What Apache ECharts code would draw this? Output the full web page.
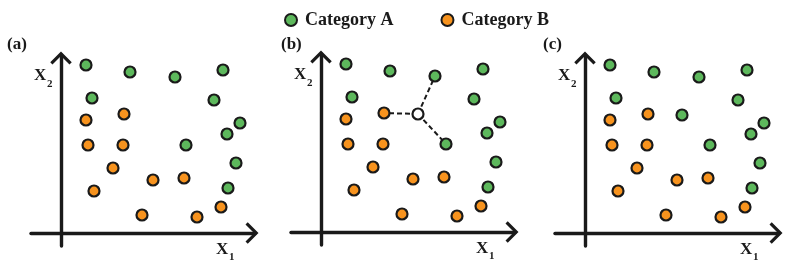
<!DOCTYPE html>
<html>
<head>
<meta charset="utf-8">
<script src="https://cdn.jsdelivr.net/npm/echarts@6/dist/echarts.min.js"></script>
<style>html,body{margin:0;padding:0;background:#fff}#c{width:789px;height:270px}</style>
</head>
<body>
<div id="c"></div>
<script>
// Feature-space coordinates (X1, X2) of the samples
const categoryA = [[25,168],[69,161],[114,156],[162,163],[31,135],[153,133],[179,110],[166,99],[125,88],[175,70],[167,45]];
const categoryB = [[25,113],[63,119],[27,88],[62,88],[52,65],[92,53],[123,55],[33,42],[81,18],[136,16],[160,26]];
const queryPoint = [97,118];
// k = 3 nearest neighbours of the query point: [category, index]
const neighbours = [['B',1],['A',2],['A',8]];
const panelLabels = ['(a)','(b)','(c)'];
const legendNames = ['Category A','Category B'];

const GREEN = '#5db85c', ORANGE = '#f7931e', INK = '#1a1a1a';
const FONT = '"Liberation Serif", "Times New Roman", serif';

const origins = [[61,233],[321,232],[585,233]];
const X_MIN = -30, X_MAX = 194, Y_MIN = -13, Y_MAX = 178;
const chevron = 'path://M11,0 L22,11 L19.7,13.3 L11,4.6 L2.3,13.3 L0,11 Z';

const grids = [], xAxes = [], yAxes = [], series = [], graphics = [];
origins.forEach((o, i) => {
  grids.push({left: o[0] + X_MIN, top: o[1] - Y_MAX, width: X_MAX - X_MIN, height: Y_MAX - Y_MIN});
  const axisLine = {show: true, onZero: true, symbol: ['none', chevron], symbolSize: [22, 13], symbolOffset: [0, -3],
    lineStyle: {color: INK, width: 3.4}};
  xAxes.push({gridIndex: i, type: 'value', min: X_MIN, max: X_MAX, axisLine: axisLine,
    axisTick: {show: false}, axisLabel: {show: false}, splitLine: {show: false}});
  yAxes.push({gridIndex: i, type: 'value', min: Y_MIN, max: Y_MAX, axisLine: axisLine,
    axisTick: {show: false}, axisLabel: {show: false}, splitLine: {show: false}});
  const item = c => ({color: c, borderColor: INK, borderWidth: 2.2, opacity: 1});
  const aData = i === 2 ? categoryA.concat([queryPoint]) : categoryA;
  series.push({name: legendNames[0], type: 'scatter', xAxisIndex: i, yAxisIndex: i, data: aData,
    symbol: 'circle', symbolSize: 11, itemStyle: item(GREEN), z: 3});
  series.push({name: legendNames[1], type: 'scatter', xAxisIndex: i, yAxisIndex: i, data: categoryB,
    symbol: 'circle', symbolSize: 11, itemStyle: item(ORANGE), z: 3});
  // axis names
  const t = (x, y, s, size) => ({type: 'text', left: x, top: y - size / 2 - 1,
    style: {text: s, font: 'bold ' + size + 'px ' + FONT, fill: INK}});
  graphics.push(t(o[0] - 27, o[1] - 156, 'X', 17));
  graphics.push(t(o[0] - 14, o[1] - 148, '2', 11));
  graphics.push(t(o[0] + 155, o[1] + 18, 'X', 17));
  graphics.push(t(o[0] + 168, o[1] + 25, '1', 11));
});
graphics.push({type:'text', left: 7, top: 36, style:{text: panelLabels[0], font: 'bold 17px ' + FONT, fill: INK}});
graphics.push({type:'text', left: 281, top: 36, style:{text: panelLabels[1], font: 'bold 17px ' + FONT, fill: INK}});
graphics.push({type:'text', left: 543, top: 36, style:{text: panelLabels[2], font: 'bold 17px ' + FONT, fill: INK}});

// panel (b): dashed links to neighbours and the query point
neighbours.forEach(n => {
  const p = n[0] === 'A' ? categoryA[n[1]] : categoryB[n[1]];
  series.push({type: 'line', xAxisIndex: 1, yAxisIndex: 1, data: [queryPoint, p], symbol: 'none',
    lineStyle: {color: INK, width: 2, type: [5, 3]}, z: 1, silent: true});
});
series.push({name: 'query', type: 'scatter', xAxisIndex: 1, yAxisIndex: 1, data: [queryPoint],
  symbol: 'circle', symbolSize: 11, itemStyle: {color: '#fff', borderColor: INK, borderWidth: 2.2, opacity: 1}, z: 4});

const chart = echarts.init(document.getElementById('c'));
chart.setOption({
  animation: false,
  backgroundColor: '#fff',
  grid: grids, xAxis: xAxes, yAxis: yAxes, series: series, graphic: graphics,
  legend: {data: legendNames, left: 279, top: 6, itemWidth: 12, itemHeight: 12, itemGap: 47,
    selectedMode: false,
    textStyle: {fontFamily: FONT, fontWeight: 'bold', fontSize: 18, color: INK, padding: [0, 0, 0, 3]}}
});
</script>
</body>
</html>
